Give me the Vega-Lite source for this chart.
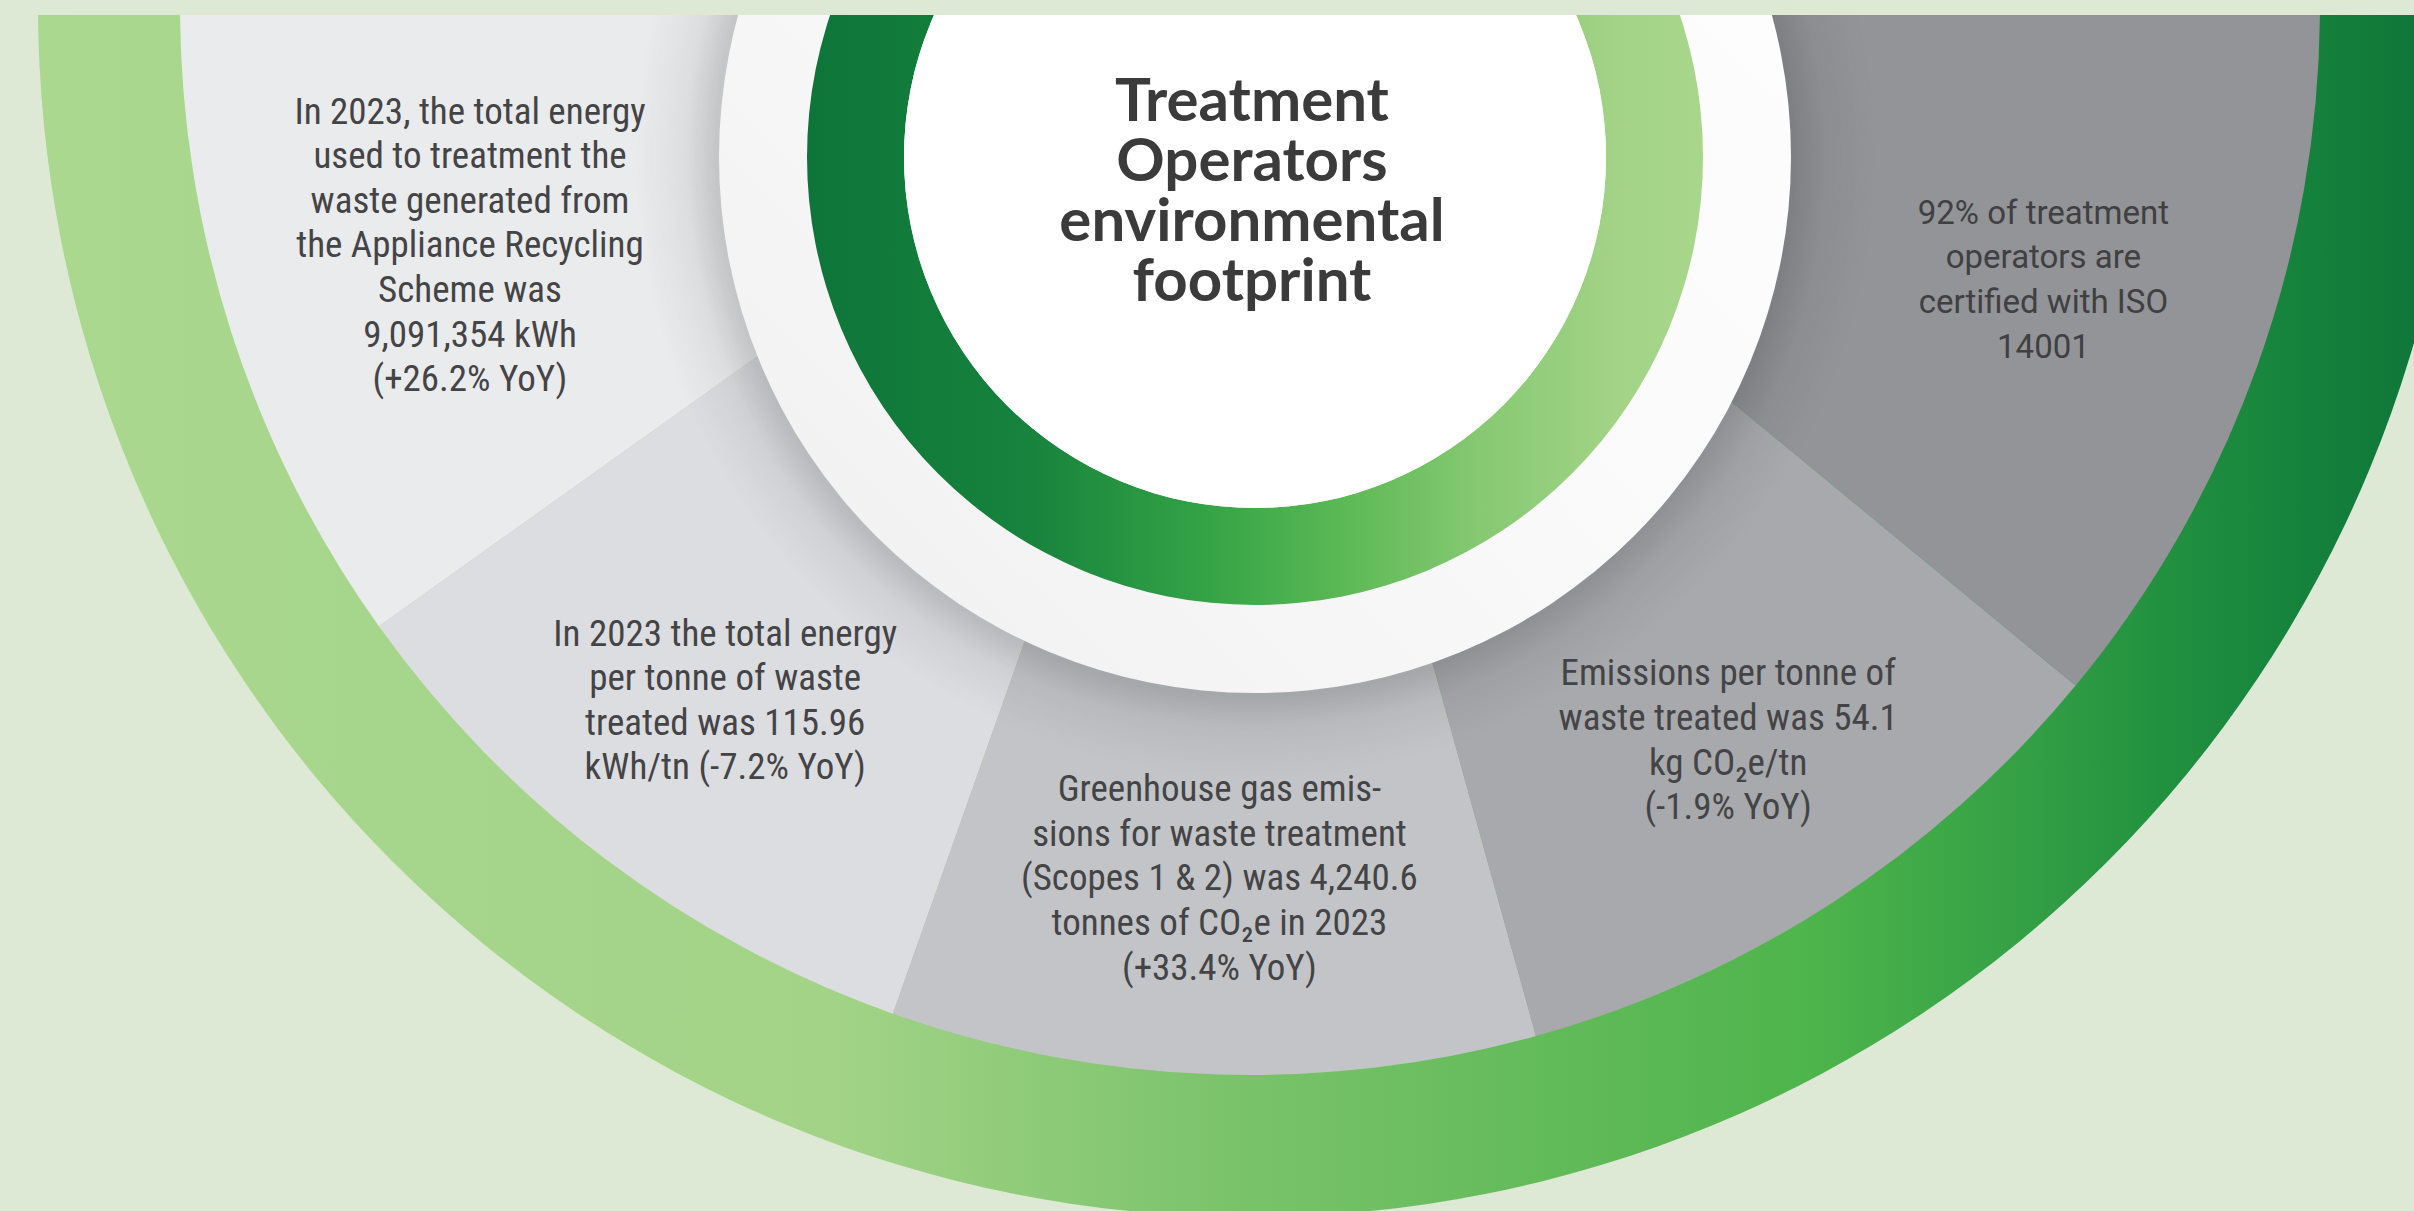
{
  "$schema": "https://vega.github.io/schema/vega-lite/v6.json",
  "width": 2414,
  "height": 1211,
  "autosize": {"type": "fit", "contains": "padding"},
  "padding": {"top": 15, "left": 0, "right": 0, "bottom": 0},
  "background": "#dde9d4",
  "config": {"view": {"stroke": null}},
  "datasets": {
    "sectors": [
      {"sector": "s1", "start": 234.5, "end": 270, "label": "In 2023, the total energy\nused to treatment the\nwaste generated from\nthe Appliance Recycling\nScheme was\n9,091,354 kWh\n(+26.2% YoY)"},
      {"sector": "s2", "start": 199.5, "end": 234.5, "label": "In 2023 the total energy\nper tonne of waste\ntreated was 115.96\nkWh/tn (-7.2% YoY)"},
      {"sector": "s3", "start": 164.5, "end": 199.5, "label": "Greenhouse gas emis-\nsions for waste treatment\n(Scopes 1 & 2) was 4,240.6\ntonnes of CO₂e in 2023\n(+33.4% YoY)"},
      {"sector": "s4", "start": 129.5, "end": 164.5, "label": "Emissions per tonne of\nwaste treated was 54.1\nkg CO₂e/tn\n(-1.9% YoY)"},
      {"sector": "s5", "start": 90, "end": 129.5, "label": "92% of treatment\noperators are\ncertified with ISO\n14001"}
    ],
    "title": [{"title": "Treatment\nOperators\nenvironmental\nfootprint"}],
    "one": [{"part": "ring"}]
  },
  "data": {"name": "sectors"},
  "layer": [
    {
      "data": {"name": "one"},
      "mark": {"type": "arc", "clip": true, "fill": {"gradient": "linear", "x1": 0, "y1": 0.5, "x2": 1, "y2": 0.5, "stops": [
        {"offset": 0, "color": "#a9d88e"},
        {"offset": 0.33, "color": "#a2d387"},
        {"offset": 0.49, "color": "#7bc36b"},
        {"offset": 0.62, "color": "#63bb5a"},
        {"offset": 0.735, "color": "#4db44b"},
        {"offset": 0.82, "color": "#33a045"},
        {"offset": 0.88, "color": "#21903f"},
        {"offset": 0.935, "color": "#15823c"},
        {"offset": 1, "color": "#0d7238"}
      ]}},
      "encoding": {
        "x": {"datum": 1250, "type": "quantitative", "scale": {"domain": [0, 2414], "zero": false, "nice": false}, "axis": null},
        "y": {"datum": 5, "type": "quantitative", "scale": {"domain": [15, 1211], "zero": false, "nice": false, "reverse": true}, "axis": null},
        "theta": {"datum": 0, "type": "quantitative", "stack": null, "scale": {"domain": [0, 360], "range": [0, 6.283185307179586]}},
        "theta2": {"datum": 360},
        "radius": {"datum": 1212, "type": "quantitative", "scale": {"type": "linear", "domain": [0, 1300], "range": [0, 1300], "zero": true, "nice": false}},
        "radius2": {"datum": 0}
      }
    },
    {
      "mark": {"type": "arc", "clip": true},
      "encoding": {
        "x": {"datum": 1250, "type": "quantitative"},
        "y": {"datum": 5, "type": "quantitative"},
        "theta": {"field": "start", "type": "quantitative", "stack": null},
        "theta2": {"field": "end"},
        "radius": {"datum": 1070, "type": "quantitative"},
        "radius2": {"datum": 0},
        "color": {"field": "sector", "type": "nominal", "legend": null, "scale": {"domain": ["s1", "s2", "s3", "s4", "s5"], "range": ["#eaebec", "#dcdde0", "#c2c4c7", "#a7a9ac", "#929497"]}}
      }
    },
    {
      "data": {"name": "one"},
      "mark": {"type": "arc", "clip": true, "fill": {"gradient": "radial", "x1": 0.5, "y1": 0.5, "r1": 0, "x2": 0.5, "y2": 0.5, "r2": 0.5, "stops": [
        {"offset": 0, "color": "rgba(50,50,52,0.2)"},
        {"offset": 0.87, "color": "rgba(50,50,52,0.2)"},
        {"offset": 0.92, "color": "rgba(50,50,52,0.07)"},
        {"offset": 1, "color": "rgba(50,50,52,0)"}
      ]}},
      "encoding": {
        "x": {"datum": 1255, "type": "quantitative"},
        "y": {"datum": 157, "type": "quantitative"},
        "theta": {"datum": 0, "type": "quantitative", "stack": null},
        "theta2": {"datum": 360},
        "radius": {"datum": 620, "type": "quantitative"},
        "radius2": {"datum": 530}
      }
    },
    {
      "data": {"name": "one"},
      "mark": {"type": "arc", "clip": true, "fill": {"gradient": "linear", "x1": 0, "y1": 1, "x2": 1, "y2": 0, "stops": [
        {"offset": 0, "color": "#efefef"},
        {"offset": 0.5, "color": "#fafafa"},
        {"offset": 1, "color": "#ffffff"}
      ]}},
      "encoding": {
        "x": {"datum": 1255, "type": "quantitative"},
        "y": {"datum": 157, "type": "quantitative"},
        "theta": {"datum": 0, "type": "quantitative", "stack": null},
        "theta2": {"datum": 360},
        "radius": {"datum": 536, "type": "quantitative"},
        "radius2": {"datum": 0}
      }
    },
    {
      "data": {"name": "one"},
      "mark": {"type": "arc", "clip": true, "fill": {"gradient": "linear", "x1": 0, "y1": 0.5, "x2": 1, "y2": 0.5, "stops": [
        {"offset": 0, "color": "#0d7539"},
        {"offset": 0.25, "color": "#17833d"},
        {"offset": 0.45, "color": "#35a446"},
        {"offset": 0.6, "color": "#5cb955"},
        {"offset": 0.75, "color": "#86c972"},
        {"offset": 0.9, "color": "#a2d386"},
        {"offset": 1, "color": "#a8d78c"}
      ]}},
      "encoding": {
        "x": {"datum": 1255, "type": "quantitative"},
        "y": {"datum": 157, "type": "quantitative"},
        "theta": {"datum": 0, "type": "quantitative", "stack": null},
        "theta2": {"datum": 360},
        "radius": {"datum": 448, "type": "quantitative"},
        "radius2": {"datum": 351}
      }
    },
    {
      "data": {"name": "one"},
      "mark": {"type": "arc", "clip": true, "fill": "#ffffff"},
      "encoding": {
        "x": {"datum": 1255, "type": "quantitative"},
        "y": {"datum": 157, "type": "quantitative"},
        "theta": {"datum": 0, "type": "quantitative", "stack": null},
        "theta2": {"datum": 360},
        "radius": {"datum": 351, "type": "quantitative"},
        "radius2": {"datum": 0}
      }
    },
    {
      "data": {"name": "title"},
      "mark": {"type": "text", "lineBreak": "\n", "font": "Lato", "fontWeight": "bold", "fontSize": 60, "lineHeight": 60, "color": "#3b3b3c", "align": "center", "baseline": "middle", "dy": -90},
      "encoding": {
        "x": {"datum": 1252, "type": "quantitative"},
        "y": {"datum": 193, "type": "quantitative"},
        "text": {"field": "title"}
      }
    },
    {
      "transform": [{"filter": "datum.sector === 's2'"}, {"calculate": "(datum.start + datum.end) / 2", "as": "mid"}],
      "mark": {"type": "text", "lineBreak": "\n", "font": "Roboto Condensed, Liberation Sans Narrow, DejaVu Sans Condensed, sans-serif", "fontSize": 37, "lineHeight": 44.6, "color": "#444446", "align": "center", "baseline": "middle", "dy": -66.9},
      "encoding": {
        "x": {"datum": 1250, "type": "quantitative"},
        "y": {"datum": 5, "type": "quantitative"},
        "theta": {"field": "mid", "type": "quantitative", "stack": null},
        "radius": {"datum": 872, "type": "quantitative"},
        "text": {"field": "label"}
      }
    },
    {
      "transform": [{"filter": "datum.sector === 's4'"}, {"calculate": "(datum.start + datum.end) / 2", "as": "mid"}],
      "mark": {"type": "text", "lineBreak": "\n", "font": "Roboto Condensed, Liberation Sans Narrow, DejaVu Sans Condensed, sans-serif", "fontSize": 37, "lineHeight": 44.6, "color": "#444446", "align": "center", "baseline": "middle", "dy": -66.9},
      "encoding": {
        "x": {"datum": 1250, "type": "quantitative"},
        "y": {"datum": 5, "type": "quantitative"},
        "theta": {"field": "mid", "type": "quantitative", "stack": null},
        "radius": {"datum": 878, "type": "quantitative"},
        "text": {"field": "label"}
      }
    },
    {
      "transform": [{"filter": "datum.sector === 's3'"}, {"calculate": "(datum.start + datum.end) / 2", "as": "mid"}],
      "mark": {"type": "text", "lineBreak": "\n", "font": "Roboto Condensed, Liberation Sans Narrow, DejaVu Sans Condensed, sans-serif", "fontSize": 37, "lineHeight": 44.6, "color": "#444446", "align": "center", "baseline": "middle", "dy": -89.2},
      "encoding": {
        "x": {"datum": 1250, "type": "quantitative"},
        "y": {"datum": 5, "type": "quantitative"},
        "theta": {"field": "mid", "type": "quantitative", "stack": null},
        "radius": {"datum": 875, "type": "quantitative"},
        "text": {"field": "label"}
      }
    },
    {
      "transform": [{"filter": "datum.sector === 's1'"}, {"calculate": "(datum.start + datum.end) / 2", "as": "mid"}],
      "mark": {"type": "text", "lineBreak": "\n", "font": "Roboto Condensed, Liberation Sans Narrow, DejaVu Sans Condensed, sans-serif", "fontSize": 37, "lineHeight": 44.6, "color": "#444446", "align": "center", "baseline": "middle", "dy": -142},
      "encoding": {
        "x": {"datum": 1250, "type": "quantitative"},
        "y": {"datum": 5, "type": "quantitative"},
        "theta": {"field": "mid", "type": "quantitative", "stack": null},
        "radius": {"datum": 819, "type": "quantitative"},
        "text": {"field": "label"}
      }
    },
    {
      "transform": [{"filter": "datum.sector === 's5'"}, {"calculate": "(datum.start + datum.end) / 2", "as": "mid"}],
      "mark": {"type": "text", "lineBreak": "\n", "font": "Roboto", "fontSize": 33, "lineHeight": 44.6, "color": "#404042", "align": "center", "baseline": "middle", "dy": -76},
      "encoding": {
        "x": {"datum": 1250, "type": "quantitative"},
        "y": {"datum": 5, "type": "quantitative"},
        "theta": {"field": "mid", "type": "quantitative", "stack": null},
        "radius": {"datum": 843, "type": "quantitative"},
        "text": {"field": "label"}
      }
    }
  ]
}
